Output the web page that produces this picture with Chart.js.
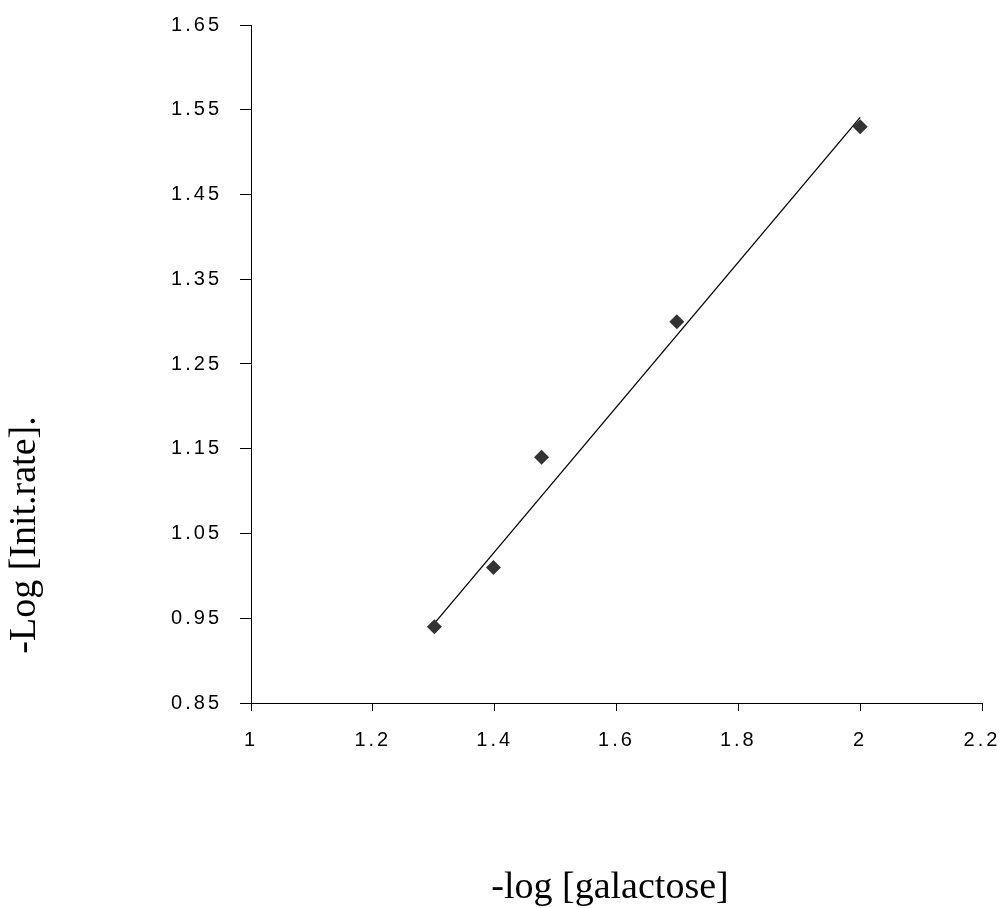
<!DOCTYPE html>
<html>
<head>
<meta charset="utf-8">
<script src="https://cdn.jsdelivr.net/npm/chart.js@4/dist/chart.umd.min.js"></script>
<style>
  html, body { margin: 0; padding: 0; background: #fff; }
  #wrap { width: 1004px; height: 908px; position: relative; }
</style>
</head>
<body>
<div id="wrap"><canvas id="rateChart"></canvas></div>
<script>
// data
const galactose = [1.301, 1.398, 1.477, 1.699, 2.0];
const initRate = [0.94, 1.01, 1.14, 1.30, 1.53];

// trend line ends
const trendX = [1.30, 2.0];
const trendY = [0.943, 1.541];

// axis ticks
const xTicks = [1, 1.2, 1.4, 1.6, 1.8, 2, 2.2];
const xTickLabels = ['1', '1.2', '1.4', '1.6', '1.8', '2', '2.2'];
const yTicks = [0.85, 0.95, 1.05, 1.15, 1.25, 1.35, 1.45, 1.55, 1.65];
const yTickLabels = ['0.85', '0.95', '1.05', '1.15', '1.25', '1.35', '1.45', '1.55', '1.65'];

const xTitle = '-log [galactose]';
const yTitle = '-Log [Init.rate].';

// spaced-out tick digits like the original print
const spacedLabels = {
    id: 'spacedLabels',
    beforeDraw(chart) {
        Object.values(chart.scales).forEach(scale => {
            if (scale._spaced) return;
            const orig = scale.drawLabels.bind(scale);
            scale.drawLabels = function(area) {
                const c = chart.ctx;
                c.save();
                c.letterSpacing = '3px';
                orig(area);
                c.restore();
            };
            scale._spaced = true;
        });
    }
};

// axis titles sit off-centre in the original, so place them by hand
const axisTitles = {
    id: 'axisTitles',
    afterDraw(chart) {
        const c = chart.ctx;
        c.save();
        c.fillStyle = '#000';
        c.font = '38px "Liberation Serif", "Times New Roman", serif';
        c.textAlign = 'center';
        c.textBaseline = 'alphabetic';
        c.fillText(xTitle, 610, 898);
        c.translate(35, 535);
        c.rotate(-Math.PI / 2);
        c.fillText(yTitle, 0, 0);
        c.restore();
    }
};

// keep the plot box where the original has it
function noOverflow(s) {
    s.paddingTop = 0;
    s.paddingBottom = 0;
    s.paddingLeft = 0;
    s.paddingRight = 0;
}

document.addEventListener('DOMContentLoaded', function() {
    const ctx = document.getElementById('rateChart').getContext('2d');
    new Chart(ctx, {
        type: 'scatter',
        data: {
            datasets: [{
                label: 'trend',
                data: trendX.map((x, i) => ({ x: x, y: trendY[i] })),
                showLine: true,
                borderColor: '#000',
                borderWidth: 1.3,
                pointRadius: 0,
                order: 2
            }, {
                label: 'rate',
                data: galactose.map((x, i) => ({ x: x, y: initRate[i] })),
                pointStyle: 'rectRot',
                pointRadius: 7.5,
                backgroundColor: '#333',
                borderColor: '#333',
                borderWidth: 0,
                order: 1
            }]
        },
        options: {
            responsive: true,
            maintainAspectRatio: false,
            animation: false,
            layout: {
                padding: { top: 25, right: 22, left: 0, bottom: 0 }
            },
            plugins: {
                legend: { display: false },
                tooltip: { enabled: false }
            },
            scales: {
                x: {
                    type: 'linear',
                    min: 1,
                    max: 2.2,
                    afterBuildTicks: s => { s.ticks = xTicks.map(v => ({ value: v })); },
                    afterFit: s => { s.height = 205; noOverflow(s); },
                    grid: {
                        drawOnChartArea: false,
                        drawTicks: true,
                        tickLength: 8,
                        tickColor: '#000'
                    },
                    border: { display: true, color: '#000', width: 1 },
                    ticks: {
                        color: '#000',
                        padding: 17,
                        maxRotation: 0,
                        font: { family: 'Liberation Sans, Arial', size: 20 },
                        callback: (v, i) => xTickLabels[i]
                    }
                },
                y: {
                    min: 0.85,
                    max: 1.65,
                    afterBuildTicks: s => { s.ticks = yTicks.map(v => ({ value: v })); },
                    afterFit: s => { s.width = 251; noOverflow(s); },
                    grid: {
                        drawOnChartArea: false,
                        drawTicks: true,
                        tickLength: 11,
                        tickColor: '#000'
                    },
                    border: { display: true, color: '#000', width: 1 },
                    ticks: {
                        color: '#000',
                        padding: 18,
                        font: { family: 'Liberation Sans, Arial', size: 20 },
                        callback: (v, i) => yTickLabels[i]
                    }
                }
            }
        },
        plugins: [spacedLabels, axisTitles]
    });
});
</script>
</body>
</html>
